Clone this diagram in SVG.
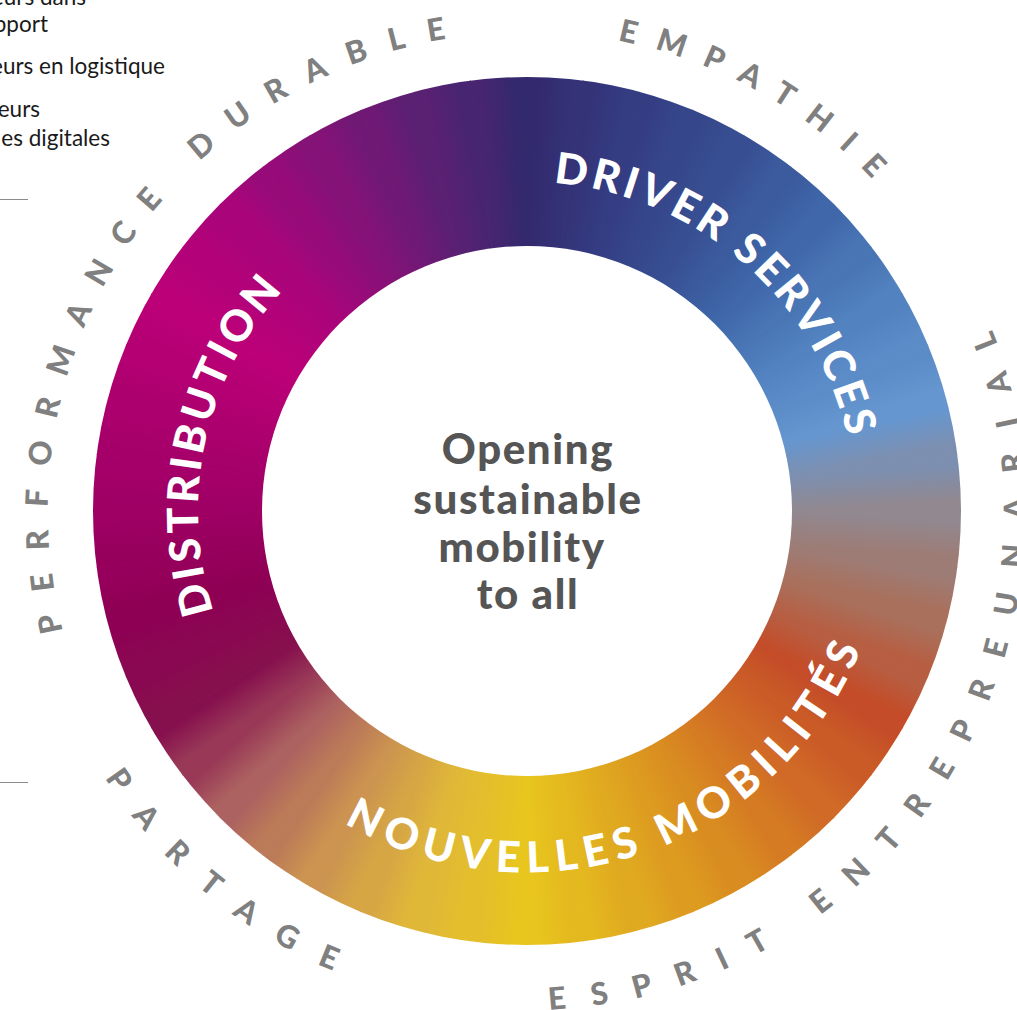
<svg xmlns="http://www.w3.org/2000/svg" xmlns:xlink="http://www.w3.org/1999/xlink" width="1017" height="1010" viewBox="0 0 1017 1010">
  <style>
    .seg { font-family: Lato, "Open Sans", "Liberation Sans", sans-serif; font-weight: 900; font-size: 43px; fill: #ffffff; }
    .val { font-family: Lato, "Open Sans", "Liberation Sans", sans-serif; font-weight: 900; font-size: 31px; fill: #808080; }
    .core { font-family: Lato, "Open Sans", "Liberation Sans", sans-serif; font-weight: 900; font-size: 42px; fill: #555555; letter-spacing: 1.6px; text-anchor: middle; }
    .note { font-family: Lato, "Open Sans", "Liberation Sans", sans-serif; font-size: 22.5px; fill: #1a1a1a; text-anchor: end; }
    .rule { stroke: #8c8c8c; stroke-width: 1; }
  </style>
  <defs>
    <!-- one 7.5 degree sector of the wheel, drawn at the top and rotated into place -->
    <polygon id="sector" points="527,511 527,11 592.26,15.28" stroke-width="1"/>
    <!-- tangent gradient across the sector, anchored on the inner rim so neighbouring sectors meet in flat colour -->
    <linearGradient id="sweep" gradientUnits="userSpaceOnUse" x1="527" y1="246" x2="561.59" y2="248.27"/>
    <linearGradient id="h0" xlink:href="#sweep"><stop offset="0" stop-color="#33296e"/><stop offset="1" stop-color="#343378"/></linearGradient>
    <linearGradient id="h1" xlink:href="#sweep"><stop offset="0" stop-color="#343378"/><stop offset="1" stop-color="#343c82"/></linearGradient>
    <linearGradient id="h2" xlink:href="#sweep"><stop offset="0" stop-color="#343c82"/><stop offset="1" stop-color="#36468a"/></linearGradient>
    <linearGradient id="h3" xlink:href="#sweep"><stop offset="0" stop-color="#36468a"/><stop offset="1" stop-color="#374f92"/></linearGradient>
    <linearGradient id="h4" xlink:href="#sweep"><stop offset="0" stop-color="#374f92"/><stop offset="1" stop-color="#3b5b9e"/></linearGradient>
    <linearGradient id="h5" xlink:href="#sweep"><stop offset="0" stop-color="#3b5b9e"/><stop offset="1" stop-color="#3f67aa"/></linearGradient>
    <linearGradient id="h6" xlink:href="#sweep"><stop offset="0" stop-color="#3f67aa"/><stop offset="1" stop-color="#4975b5"/></linearGradient>
    <linearGradient id="h7" xlink:href="#sweep"><stop offset="0" stop-color="#4975b5"/><stop offset="1" stop-color="#5282c0"/></linearGradient>
    <linearGradient id="h8" xlink:href="#sweep"><stop offset="0" stop-color="#5282c0"/><stop offset="1" stop-color="#5c8cc8"/></linearGradient>
    <linearGradient id="h9" xlink:href="#sweep"><stop offset="0" stop-color="#5c8cc8"/><stop offset="1" stop-color="#6696cf"/></linearGradient>
    <linearGradient id="h10" xlink:href="#sweep"><stop offset="0" stop-color="#6696cf"/><stop offset="1" stop-color="#7c8fb0"/></linearGradient>
    <linearGradient id="h11" xlink:href="#sweep"><stop offset="0" stop-color="#7c8fb0"/><stop offset="1" stop-color="#918890"/></linearGradient>
    <linearGradient id="h12" xlink:href="#sweep"><stop offset="0" stop-color="#918890"/><stop offset="1" stop-color="#9d7c76"/></linearGradient>
    <linearGradient id="h13" xlink:href="#sweep"><stop offset="0" stop-color="#9d7c76"/><stop offset="1" stop-color="#a9705c"/></linearGradient>
    <linearGradient id="h14" xlink:href="#sweep"><stop offset="0" stop-color="#a9705c"/><stop offset="1" stop-color="#b75e42"/></linearGradient>
    <linearGradient id="h15" xlink:href="#sweep"><stop offset="0" stop-color="#b75e42"/><stop offset="1" stop-color="#c44c28"/></linearGradient>
    <linearGradient id="h16" xlink:href="#sweep"><stop offset="0" stop-color="#c44c28"/><stop offset="1" stop-color="#ca5b27"/></linearGradient>
    <linearGradient id="h17" xlink:href="#sweep"><stop offset="0" stop-color="#ca5b27"/><stop offset="1" stop-color="#d06a26"/></linearGradient>
    <linearGradient id="h18" xlink:href="#sweep"><stop offset="0" stop-color="#d06a26"/><stop offset="1" stop-color="#d57b23"/></linearGradient>
    <linearGradient id="h19" xlink:href="#sweep"><stop offset="0" stop-color="#d57b23"/><stop offset="1" stop-color="#d98c20"/></linearGradient>
    <linearGradient id="h20" xlink:href="#sweep"><stop offset="0" stop-color="#d98c20"/><stop offset="1" stop-color="#dd9b20"/></linearGradient>
    <linearGradient id="h21" xlink:href="#sweep"><stop offset="0" stop-color="#dd9b20"/><stop offset="1" stop-color="#e0aa20"/></linearGradient>
    <linearGradient id="h22" xlink:href="#sweep"><stop offset="0" stop-color="#e0aa20"/><stop offset="1" stop-color="#e4b81f"/></linearGradient>
    <linearGradient id="h23" xlink:href="#sweep"><stop offset="0" stop-color="#e4b81f"/><stop offset="1" stop-color="#e8c61e"/></linearGradient>
    <linearGradient id="h24" xlink:href="#sweep"><stop offset="0" stop-color="#e8c61e"/><stop offset="1" stop-color="#e4bf2b"/></linearGradient>
    <linearGradient id="h25" xlink:href="#sweep"><stop offset="0" stop-color="#e4bf2b"/><stop offset="1" stop-color="#e0b838"/></linearGradient>
    <linearGradient id="h26" xlink:href="#sweep"><stop offset="0" stop-color="#e0b838"/><stop offset="1" stop-color="#d6a644"/></linearGradient>
    <linearGradient id="h27" xlink:href="#sweep"><stop offset="0" stop-color="#d6a644"/><stop offset="1" stop-color="#cc9450"/></linearGradient>
    <linearGradient id="h28" xlink:href="#sweep"><stop offset="0" stop-color="#cc9450"/><stop offset="1" stop-color="#bc7b58"/></linearGradient>
    <linearGradient id="h29" xlink:href="#sweep"><stop offset="0" stop-color="#bc7b58"/><stop offset="1" stop-color="#ac6260"/></linearGradient>
    <linearGradient id="h30" xlink:href="#sweep"><stop offset="0" stop-color="#ac6260"/><stop offset="1" stop-color="#993957"/></linearGradient>
    <linearGradient id="h31" xlink:href="#sweep"><stop offset="0" stop-color="#993957"/><stop offset="1" stop-color="#86104e"/></linearGradient>
    <linearGradient id="h32" xlink:href="#sweep"><stop offset="0" stop-color="#86104e"/><stop offset="1" stop-color="#8a0851"/></linearGradient>
    <linearGradient id="h33" xlink:href="#sweep"><stop offset="0" stop-color="#8a0851"/><stop offset="1" stop-color="#8e0054"/></linearGradient>
    <linearGradient id="h34" xlink:href="#sweep"><stop offset="0" stop-color="#8e0054"/><stop offset="1" stop-color="#96005c"/></linearGradient>
    <linearGradient id="h35" xlink:href="#sweep"><stop offset="0" stop-color="#96005c"/><stop offset="1" stop-color="#9e0064"/></linearGradient>
    <linearGradient id="h36" xlink:href="#sweep"><stop offset="0" stop-color="#9e0064"/><stop offset="1" stop-color="#a50069"/></linearGradient>
    <linearGradient id="h37" xlink:href="#sweep"><stop offset="0" stop-color="#a50069"/><stop offset="1" stop-color="#ac006e"/></linearGradient>
    <linearGradient id="h38" xlink:href="#sweep"><stop offset="0" stop-color="#ac006e"/><stop offset="1" stop-color="#b40073"/></linearGradient>
    <linearGradient id="h39" xlink:href="#sweep"><stop offset="0" stop-color="#b40073"/><stop offset="1" stop-color="#bc0078"/></linearGradient>
    <linearGradient id="h40" xlink:href="#sweep"><stop offset="0" stop-color="#bc0078"/><stop offset="1" stop-color="#b30279"/></linearGradient>
    <linearGradient id="h41" xlink:href="#sweep"><stop offset="0" stop-color="#b30279"/><stop offset="1" stop-color="#aa047a"/></linearGradient>
    <linearGradient id="h42" xlink:href="#sweep"><stop offset="0" stop-color="#aa047a"/><stop offset="1" stop-color="#970b79"/></linearGradient>
    <linearGradient id="h43" xlink:href="#sweep"><stop offset="0" stop-color="#970b79"/><stop offset="1" stop-color="#841277"/></linearGradient>
    <linearGradient id="h44" xlink:href="#sweep"><stop offset="0" stop-color="#841277"/><stop offset="1" stop-color="#6f1975"/></linearGradient>
    <linearGradient id="h45" xlink:href="#sweep"><stop offset="0" stop-color="#6f1975"/><stop offset="1" stop-color="#5a2072"/></linearGradient>
    <linearGradient id="h46" xlink:href="#sweep"><stop offset="0" stop-color="#5a2072"/><stop offset="1" stop-color="#472570"/></linearGradient>
    <linearGradient id="h47" xlink:href="#sweep"><stop offset="0" stop-color="#472570"/><stop offset="1" stop-color="#33296e"/></linearGradient>

    <clipPath id="outerDisc">
      <circle cx="527" cy="511" r="434"/>
    </clipPath>

    <!-- baseline circles for the curved lettering -->
    <path id="cw329" d="M527,182 A329,329 0 1 1 527,840 A329,329 0 1 1 527,182"/>
    <path id="ccw361" d="M527,149.5 A361.5,361.5 0 1 0 527,872.5 A361.5,361.5 0 1 0 527,149.5"/>
    <path id="cw479" d="M527,32 A479,479 0 1 1 527,990 A479,479 0 1 1 527,32"/>
    <path id="ccw499" d="M527,12 A499,499 0 1 0 527,1010 A499,499 0 1 0 527,12"/>
  </defs>

  <rect width="1017" height="1010" fill="#ffffff"/>

  <!-- side notes -->
  <g id="notes">
    <text class="note" x="86" y="5">eurs dans</text>
    <text class="note" x="48" y="32">pport</text>
    <text class="note" x="165" y="74">eurs en logistique</text>
    <text class="note" x="40" y="117">eurs</text>
    <text class="note" x="110" y="146">es digitales</text>
    <line class="rule" x1="0" y1="199.5" x2="28" y2="199.5"/>
    <line class="rule" x1="0" y1="782.5" x2="28" y2="782.5"/>
  </g>

  <!-- colour wheel -->
  <g id="wheel">
    <g clip-path="url(#outerDisc)">
      <use xlink:href="#sector" fill="url(#h0)" stroke="url(#h0)" transform="rotate(0 527 511)"/>
      <use xlink:href="#sector" fill="url(#h1)" stroke="url(#h1)" transform="rotate(7.5 527 511)"/>
      <use xlink:href="#sector" fill="url(#h2)" stroke="url(#h2)" transform="rotate(15 527 511)"/>
      <use xlink:href="#sector" fill="url(#h3)" stroke="url(#h3)" transform="rotate(22.5 527 511)"/>
      <use xlink:href="#sector" fill="url(#h4)" stroke="url(#h4)" transform="rotate(30 527 511)"/>
      <use xlink:href="#sector" fill="url(#h5)" stroke="url(#h5)" transform="rotate(37.5 527 511)"/>
      <use xlink:href="#sector" fill="url(#h6)" stroke="url(#h6)" transform="rotate(45 527 511)"/>
      <use xlink:href="#sector" fill="url(#h7)" stroke="url(#h7)" transform="rotate(52.5 527 511)"/>
      <use xlink:href="#sector" fill="url(#h8)" stroke="url(#h8)" transform="rotate(60 527 511)"/>
      <use xlink:href="#sector" fill="url(#h9)" stroke="url(#h9)" transform="rotate(67.5 527 511)"/>
      <use xlink:href="#sector" fill="url(#h10)" stroke="url(#h10)" transform="rotate(75 527 511)"/>
      <use xlink:href="#sector" fill="url(#h11)" stroke="url(#h11)" transform="rotate(82.5 527 511)"/>
      <use xlink:href="#sector" fill="url(#h12)" stroke="url(#h12)" transform="rotate(90 527 511)"/>
      <use xlink:href="#sector" fill="url(#h13)" stroke="url(#h13)" transform="rotate(97.5 527 511)"/>
      <use xlink:href="#sector" fill="url(#h14)" stroke="url(#h14)" transform="rotate(105 527 511)"/>
      <use xlink:href="#sector" fill="url(#h15)" stroke="url(#h15)" transform="rotate(112.5 527 511)"/>
      <use xlink:href="#sector" fill="url(#h16)" stroke="url(#h16)" transform="rotate(120 527 511)"/>
      <use xlink:href="#sector" fill="url(#h17)" stroke="url(#h17)" transform="rotate(127.5 527 511)"/>
      <use xlink:href="#sector" fill="url(#h18)" stroke="url(#h18)" transform="rotate(135 527 511)"/>
      <use xlink:href="#sector" fill="url(#h19)" stroke="url(#h19)" transform="rotate(142.5 527 511)"/>
      <use xlink:href="#sector" fill="url(#h20)" stroke="url(#h20)" transform="rotate(150 527 511)"/>
      <use xlink:href="#sector" fill="url(#h21)" stroke="url(#h21)" transform="rotate(157.5 527 511)"/>
      <use xlink:href="#sector" fill="url(#h22)" stroke="url(#h22)" transform="rotate(165 527 511)"/>
      <use xlink:href="#sector" fill="url(#h23)" stroke="url(#h23)" transform="rotate(172.5 527 511)"/>
      <use xlink:href="#sector" fill="url(#h24)" stroke="url(#h24)" transform="rotate(180 527 511)"/>
      <use xlink:href="#sector" fill="url(#h25)" stroke="url(#h25)" transform="rotate(187.5 527 511)"/>
      <use xlink:href="#sector" fill="url(#h26)" stroke="url(#h26)" transform="rotate(195 527 511)"/>
      <use xlink:href="#sector" fill="url(#h27)" stroke="url(#h27)" transform="rotate(202.5 527 511)"/>
      <use xlink:href="#sector" fill="url(#h28)" stroke="url(#h28)" transform="rotate(210 527 511)"/>
      <use xlink:href="#sector" fill="url(#h29)" stroke="url(#h29)" transform="rotate(217.5 527 511)"/>
      <use xlink:href="#sector" fill="url(#h30)" stroke="url(#h30)" transform="rotate(225 527 511)"/>
      <use xlink:href="#sector" fill="url(#h31)" stroke="url(#h31)" transform="rotate(232.5 527 511)"/>
      <use xlink:href="#sector" fill="url(#h32)" stroke="url(#h32)" transform="rotate(240 527 511)"/>
      <use xlink:href="#sector" fill="url(#h33)" stroke="url(#h33)" transform="rotate(247.5 527 511)"/>
      <use xlink:href="#sector" fill="url(#h34)" stroke="url(#h34)" transform="rotate(255 527 511)"/>
      <use xlink:href="#sector" fill="url(#h35)" stroke="url(#h35)" transform="rotate(262.5 527 511)"/>
      <use xlink:href="#sector" fill="url(#h36)" stroke="url(#h36)" transform="rotate(270 527 511)"/>
      <use xlink:href="#sector" fill="url(#h37)" stroke="url(#h37)" transform="rotate(277.5 527 511)"/>
      <use xlink:href="#sector" fill="url(#h38)" stroke="url(#h38)" transform="rotate(285 527 511)"/>
      <use xlink:href="#sector" fill="url(#h39)" stroke="url(#h39)" transform="rotate(292.5 527 511)"/>
      <use xlink:href="#sector" fill="url(#h40)" stroke="url(#h40)" transform="rotate(300 527 511)"/>
      <use xlink:href="#sector" fill="url(#h41)" stroke="url(#h41)" transform="rotate(307.5 527 511)"/>
      <use xlink:href="#sector" fill="url(#h42)" stroke="url(#h42)" transform="rotate(315 527 511)"/>
      <use xlink:href="#sector" fill="url(#h43)" stroke="url(#h43)" transform="rotate(322.5 527 511)"/>
      <use xlink:href="#sector" fill="url(#h44)" stroke="url(#h44)" transform="rotate(330 527 511)"/>
      <use xlink:href="#sector" fill="url(#h45)" stroke="url(#h45)" transform="rotate(337.5 527 511)"/>
      <use xlink:href="#sector" fill="url(#h46)" stroke="url(#h46)" transform="rotate(345 527 511)"/>
      <use xlink:href="#sector" fill="url(#h47)" stroke="url(#h47)" transform="rotate(352.5 527 511)"/>
    </g>
    <circle cx="527" cy="511" r="265" fill="#ffffff"/>
  </g>

  <!-- centre statement -->
  <g id="mission">
    <text class="core" x="528" y="464">Opening</text>
    <text class="core" x="528" y="514">sustainable</text>
    <text class="core" x="522" y="562">mobility</text>
    <text class="core" x="528" y="609">to all</text>
  </g>

  <!-- business lines on the ring -->
  <g id="driver-services">
    <text class="seg" letter-spacing="3.8"><textPath xlink:href="#cw329" startOffset="236" text-anchor="middle">DRIVER SERVICES</textPath></text>
  </g>
  <g id="nouvelles-mobilites">
    <text class="seg" letter-spacing="7.3"><textPath xlink:href="#ccw361" startOffset="1256" text-anchor="middle">NOUVELLES MOBILITÉS</textPath></text>
  </g>
  <g id="distribution">
    <text class="seg" letter-spacing="3.6"><textPath xlink:href="#cw329" startOffset="1621" text-anchor="middle">DISTRIBUTION</textPath></text>
  </g>

  <!-- values around the wheel -->
  <g id="empathie">
    <text class="val" letter-spacing="20"><textPath xlink:href="#cw479" startOffset="248.3" text-anchor="middle">EMPATHIE</textPath></text>
  </g>
  <g id="esprit-entrepreunarial">
    <text class="val" letter-spacing="26"><textPath xlink:href="#ccw499" startOffset="2076.2" text-anchor="middle">ESPRIT ENTREPREUNARIAL</textPath></text>
  </g>
  <g id="partage">
    <text class="val" letter-spacing="27.7"><textPath xlink:href="#ccw499" startOffset="1230.7" text-anchor="middle">PARTAGE</textPath></text>
  </g>
  <g id="performance-durable">
    <text class="val" letter-spacing="22.7"><textPath xlink:href="#cw479" startOffset="2543" text-anchor="middle">PERFORMANCE DURABLE</textPath></text>
  </g>
</svg>
